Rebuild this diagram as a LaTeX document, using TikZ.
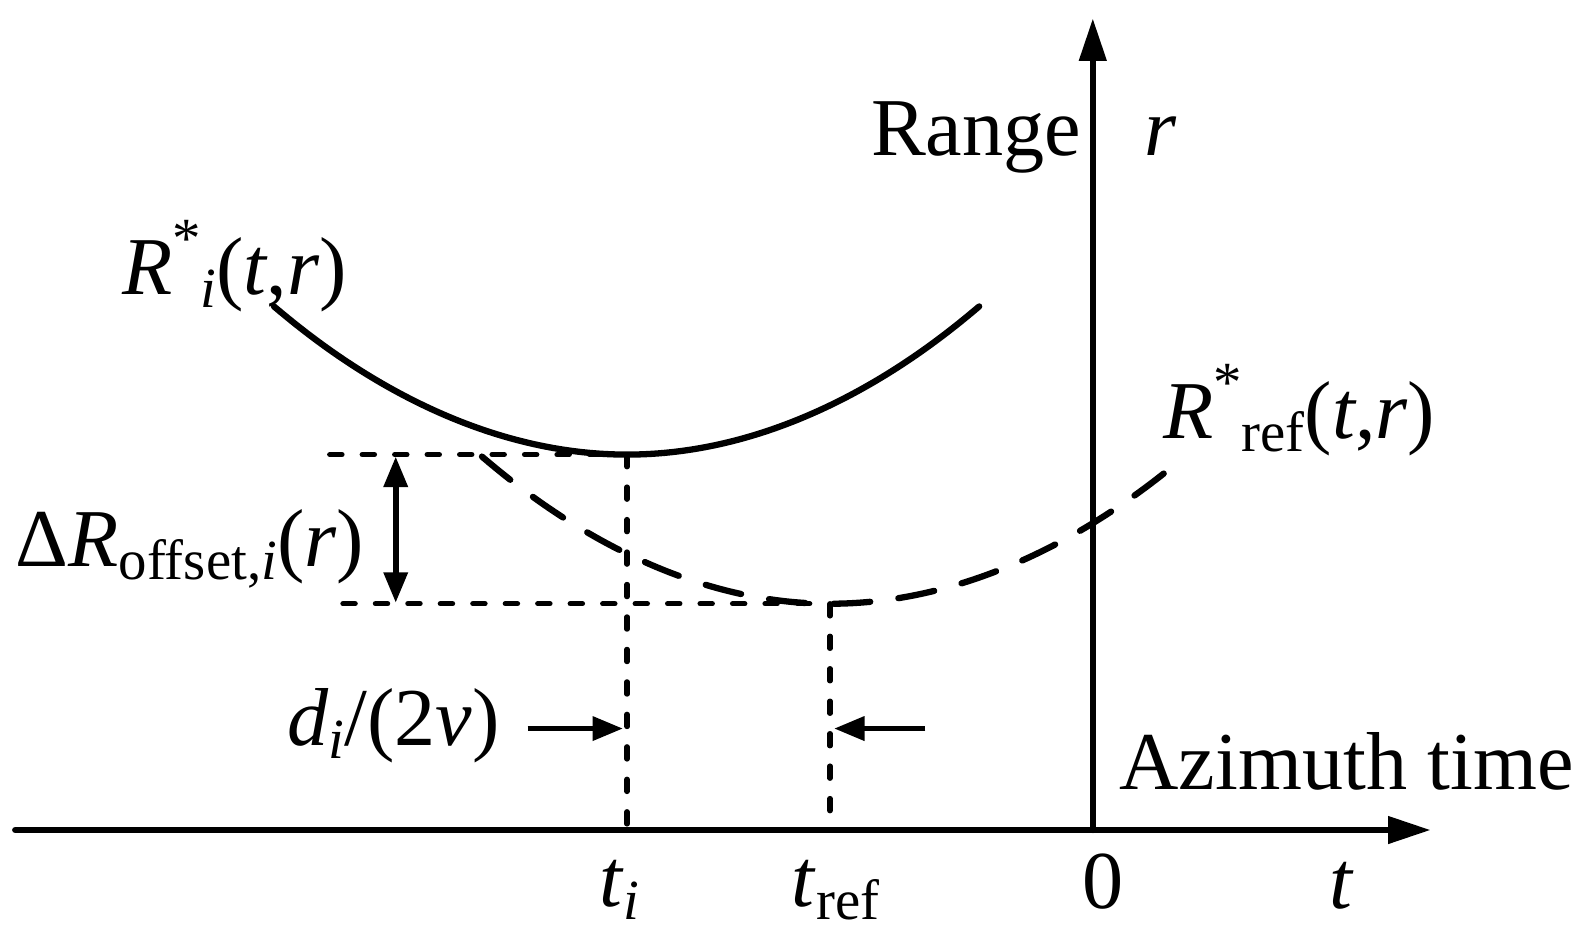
\documentclass[tikz,border=0pt]{standalone}
\usepackage{fontspec}
\setmainfont{Liberation Serif}
\usetikzlibrary{arrows.meta}
\newcommand{\lowsub}[1]{\raisebox{-0.16em}{\fontsize{28}{30}\selectfont #1}}
\newcommand{\hisup}{\raisebox{0.45em}{\fontsize{28}{30}\selectfont *}}
\begin{document}
\begin{tikzpicture}[x=0.5pt,y=-0.5pt,
   lbl/.style={inner sep=0pt,anchor=base west,font=\fontsize{40.5}{48}\selectfont},
   axis/.style={line width=3.1pt,line cap=round,-{Triangle[length=21pt,width=13pt]}},
   curve/.style={line width=3.1pt,line cap=round},
   guide/.style={line width=2.6pt,dash pattern=on 6pt off 10pt,line cap=round},
   dim/.style={line width=2.8pt,-{Triangle[length=15pt,width=11.5pt]}}]
   \useasboundingbox (0,0) rectangle (1568,923);

   % axes
   \coordinate (O) at (1077,818);
   \coordinate (tleft) at (15,818);
   \coordinate (tend) at (1410,818);
   \coordinate (rend) at (1077,18);
   \draw[axis] (tleft) -- (tend);
   \draw[axis] (O) -- (rend);

   % range histories
   \coordinate (Ai) at (270,302);
   \coordinate (Mi) at (618,448);
   \coordinate (Bi) at (965,302);
   \draw[curve] (Ai) parabola bend (Mi) (Bi);
   \coordinate (Ar) at (475,450);
   \coordinate (Mr) at (818,595);
   \coordinate (Br) at (1165,452);
   \draw[curve,dash pattern=on 18pt off 14pt] (Ar) parabola bend (Mr) (Br);

   % guides
   \coordinate (g1) at (325,448);
   \coordinate (g2) at (338,595);
   \coordinate (ti) at (618,818);
   \coordinate (tr) at (818,818);
   \draw[guide] (g1) -- (Mi);
   \draw[guide] (g2) -- (Mr);
   \draw[guide] (Mi) -- (ti);
   \draw[guide] (Mr) -- (tr);

   % offsets
   \coordinate (dtop) at (390,450);
   \coordinate (dbot) at (390,594);
   \draw[dim,{Triangle[length=15pt,width=11.5pt]}-{Triangle[length=15pt,width=11.5pt]}] (dtop) -- (dbot);
   \coordinate (pl) at (520,718);
   \coordinate (pli) at (614,718);
   \coordinate (pr) at (912,718);
   \coordinate (pri) at (822,718);
   \draw[dim] (pl) -- (pli);
   \draw[dim] (pr) -- (pri);

   % labels
   \node[lbl] (range) at (858,153) {Range};
   \node[lbl] (rlab) at (1128,153) {\textit{r}};
   \node[lbl] (Rilab) at (120,290) {\textit{R}\hisup\lowsub{\textit{i}}(\textit{t},\textit{r})};
   \node[lbl] (Rreflab) at (1146,432) {\textit{R}\hisup\lowsub{ref}(\textit{t},\textit{r})};
   \node[lbl] (dRlab) at (15,558) {Δ\textit{R}\lowsub{offset,\textit{i}}(\textit{r})};
   \node[lbl] (dlab) at (283,735) {\textit{d}\lowsub{\textit{i}}/(2\textit{v})};
   \node[lbl] (tilab) at (590,893) {\textit{t}\lowsub{\textit{i}}};
   \node[lbl] (treflab) at (780,893) {\textit{t}\lowsub{ref}};
   \node[lbl] (zero) at (1066,895) {0};
   \node[lbl] (tlab) at (1310,895) {\textit{t}};
   \node[lbl] (azlab) at (1103,778) {Azimuth time};
\end{tikzpicture}
\end{document}
